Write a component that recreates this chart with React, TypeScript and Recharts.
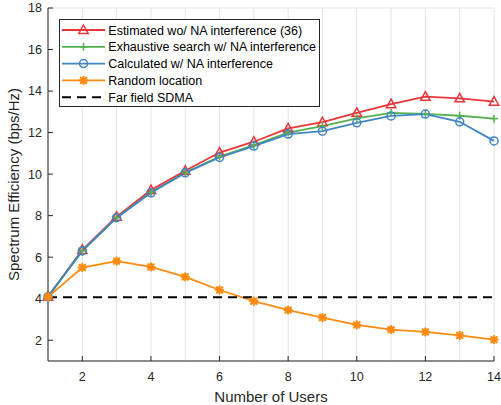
import React from 'react';
import { LineChart, Line, XAxis, YAxis, CartesianGrid, Legend } from 'recharts';

const users = [1, 2, 3, 4, 5, 6, 7, 8, 9, 10, 11, 12, 13, 14];
const estimated = [4.1, 6.35, 7.95, 9.23, 10.16, 11.04, 11.56, 12.2, 12.5, 12.95, 13.37, 13.73, 13.65, 13.49];
const exhaustive = [4.1, 6.3, 7.9, 9.12, 10.08, 10.85, 11.4, 12.0, 12.31, 12.68, 12.95, 12.9, 12.81, 12.67];
const calculated = [4.1, 6.3, 7.9, 9.1, 10.06, 10.8, 11.35, 11.93, 12.07, 12.47, 12.8, 12.89, 12.52, 11.6];
const randomLoc = [4.09, 5.5, 5.81, 5.53, 5.05, 4.42, 3.88, 3.45, 3.09, 2.74, 2.51, 2.4, 2.23, 2.03];
const farField = [4.07, 4.07, 4.07, 4.07, 4.07, 4.07, 4.07, 4.07, 4.07, 4.07, 4.07, 4.07, 4.07, 4.07];

const xTicks = [2, 4, 6, 8, 10, 12, 14];
const yTicks = [2, 4, 6, 8, 10, 12, 14, 16, 18];

const seriesNames = [
  'Estimated wo/ NA interference (36)',
  'Exhaustive search w/ NA interference',
  'Calculated w/ NA interference',
  'Random location',
  'Far field SDMA',
];

const RED = '#E8363B';
const GREEN = '#55B14F';
const BLUE = '#3F86C3';
const ORANGE = '#FF8A10';
const AXIS = '#262626';
const GRID = '#E3E3E3';
const FONT = '"Liberation Sans", Arial, Helvetica, sans-serif';

const data = users.map((u, i) => ({
  users: u,
  estimated: estimated[i],
  exhaustive: exhaustive[i],
  calculated: calculated[i],
  random: randomLoc[i],
  far: farField[i],
}));

const Tri = ({ cx, cy, color }: any) => (
  <polygon
    points={`${cx},${cy - 5} ${cx - 4.7},${cy + 3.5} ${cx + 4.7},${cy + 3.5}`}
    fill="none"
    stroke={color}
    strokeWidth={1.5}
  />
);
const Plus = ({ cx, cy, color }: any) => (
  <g stroke={color} strokeWidth={1.5}>
    <line x1={cx - 4} y1={cy} x2={cx + 4} y2={cy} />
    <line x1={cx} y1={cy - 4} x2={cx} y2={cy + 4} />
  </g>
);
const Circ = ({ cx, cy, color }: any) => (
  <circle cx={cx} cy={cy} r={4} fill="none" stroke={color} strokeWidth={1.5} />
);
const Star = ({ cx, cy, color }: any) => (
  <g stroke={color} strokeWidth={2.2} strokeLinecap="round">
    <line x1={cx - 3.6} y1={cy} x2={cx + 3.6} y2={cy} />
    <line x1={cx} y1={cy - 3.6} x2={cx} y2={cy + 3.6} />
    <line x1={cx - 2.7} y1={cy - 2.7} x2={cx + 2.7} y2={cy + 2.7} />
    <line x1={cx - 2.7} y1={cy + 2.7} x2={cx + 2.7} y2={cy - 2.7} />
  </g>
);

const mk = (Comp: any, color: string) => (props: any) => {
  const { cx, cy, index } = props;
  if (cx == null || cy == null) return <g key={`e-${index}`} />;
  return <Comp key={`m-${index}`} cx={cx} cy={cy} color={color} />;
};

const legendItems = [
  { name: seriesNames[0], color: RED, Marker: Tri, dash: undefined },
  { name: seriesNames[1], color: GREEN, Marker: Plus, dash: undefined },
  { name: seriesNames[2], color: BLUE, Marker: Circ, dash: undefined },
  { name: seriesNames[3], color: ORANGE, Marker: Star, dash: undefined },
  { name: seriesNames[4], color: '#000', Marker: null, dash: '9 6' },
];

const LegendBox = () => (
  <svg width={261} height={88} style={{ display: 'block' }}>
    <rect x={0.5} y={0.5} width={260} height={87} fill="#fff" stroke={AXIS} strokeWidth={1} />
    {legendItems.map((it, i) => {
      const y = 11 + i * 16.8;
      const M: any = it.Marker;
      return (
        <g key={it.name}>
          <line x1={3} y1={y} x2={46} y2={y} stroke={it.color} strokeWidth={it.dash ? 2 : 1.8} strokeDasharray={it.dash} />
          {M ? <M cx={24.5} cy={y} color={it.color} /> : null}
          <text x={49.3} y={y + 4.6} fontSize={12.5} fontFamily={FONT} fill="#000">
            {it.name}
          </text>
        </g>
      );
    })}
  </svg>
);

export default function App() {
  return (
    <div style={{ position: 'absolute', left: 0, top: 0, width: 501, height: 405, background: '#fff' }}>
      <LineChart
        width={501}
        height={405}
        data={data}
        margin={{ top: 8, right: 7, bottom: 0, left: 0 }}
        style={{ fontFamily: FONT }}
      >
        <CartesianGrid stroke={GRID} strokeWidth={1} />
        <XAxis
          xAxisId="bottom"
          dataKey="users"
          type="number"
          domain={[1, 14]}
          ticks={xTicks}
          height={44}
          tickSize={-5}
          tickMargin={16}
          stroke={AXIS}
          tick={{ fill: AXIS, fontSize: 12.5, fontFamily: FONT }}
          axisLine={{ stroke: AXIS }}
          tickLine={{ stroke: AXIS }}
          label={{ value: 'Number of Users', position: 'insideBottom', offset: 3, fill: AXIS, fontSize: 15, fontFamily: FONT }}
        />
        <XAxis
          xAxisId="top"
          orientation="top"
          dataKey="users"
          type="number"
          domain={[1, 14]}
          ticks={xTicks}
          height={0}
          tickSize={-5}
          tickFormatter={() => ''}
          stroke={AXIS}
          axisLine={{ stroke: AXIS }}
          tickLine={{ stroke: AXIS }}
        />
        <YAxis
          yAxisId="left"
          type="number"
          domain={[1, 18]}
          ticks={yTicks}
          width={48}
          tickSize={-5}
          tickMargin={11}
          stroke={AXIS}
          tick={{ fill: AXIS, fontSize: 12.5, fontFamily: FONT }}
          axisLine={{ stroke: AXIS }}
          tickLine={{ stroke: AXIS }}
          label={{ value: 'Spectrum Efficiency (bps/Hz)', angle: -90, position: 'insideLeft', offset: 14, fill: AXIS, fontSize: 15, fontFamily: FONT, style: { textAnchor: 'middle' } }}
        />
        <YAxis
          yAxisId="right"
          orientation="right"
          type="number"
          domain={[1, 18]}
          ticks={yTicks}
          width={0}
          tickSize={-5}
          tickFormatter={() => ''}
          stroke={AXIS}
          axisLine={{ stroke: AXIS }}
          tickLine={{ stroke: AXIS }}
        />
        <Legend
          layout="horizontal"
          verticalAlign="middle"
          align="center"
          content={() => <LegendBox />}
          wrapperStyle={{ left: 59, top: 19, width: 261, height: 88 }}
        />
        <Line xAxisId="bottom" yAxisId="left" dataKey="estimated" name={seriesNames[0]} stroke={RED} strokeWidth={1.8} dot={mk(Tri, RED)} activeDot={false} isAnimationActive={false} />
        <Line xAxisId="bottom" yAxisId="left" dataKey="exhaustive" name={seriesNames[1]} stroke={GREEN} strokeWidth={1.8} dot={mk(Plus, GREEN)} activeDot={false} isAnimationActive={false} />
        <Line xAxisId="bottom" yAxisId="left" dataKey="calculated" name={seriesNames[2]} stroke={BLUE} strokeWidth={1.8} dot={mk(Circ, BLUE)} activeDot={false} isAnimationActive={false} />
        <Line xAxisId="bottom" yAxisId="left" dataKey="random" name={seriesNames[3]} stroke={ORANGE} strokeWidth={1.8} dot={mk(Star, ORANGE)} activeDot={false} isAnimationActive={false} />
        <Line xAxisId="bottom" yAxisId="left" dataKey="far" name={seriesNames[4]} stroke="#000" strokeWidth={2} strokeDasharray="9 6" dot={false} activeDot={false} isAnimationActive={false} />
      </LineChart>
    </div>
  );
}
